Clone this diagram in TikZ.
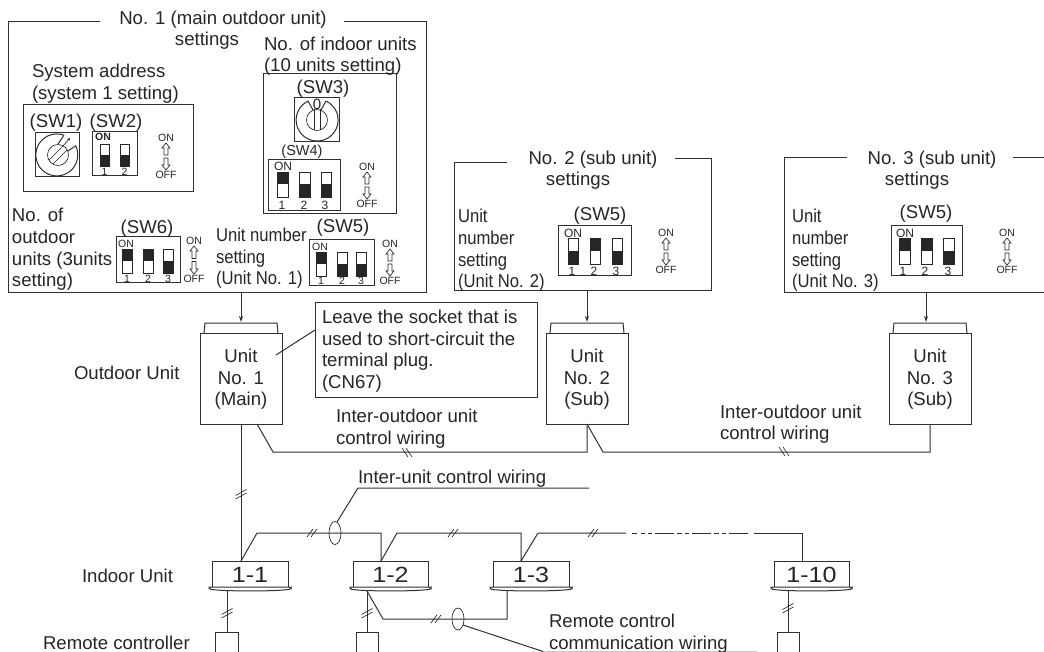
\documentclass[tikz,border=0pt]{standalone}
\usepackage{fontspec}
\setmainfont{Liberation Sans}
\usetikzlibrary{arrows.meta}
\definecolor{ink}{HTML}{262626}
\definecolor{frame}{HTML}{303030}
\tikzset{
  x=1pt,y=-1pt,
  ln/.style={draw=frame,line width=1pt},
  thin ln/.style={draw=ink,line width=0.65pt},
  lbl/.style={inner sep=0pt,outer sep=0pt,text=ink,font=\fontsize{18.6}{21.6}\selectfont,align=left},
  clbl/.style={lbl,align=center},
  nar/.style={lbl,xscale=0.895},
  sm/.style={inner sep=0pt,outer sep=0pt,text=ink,font=\fontsize{10.5}{12}\selectfont},
  smb/.style={sm,font=\fontsize{10.5}{12}\selectfont\bfseries},
  smc/.style={sm,font=\fontsize{12}{12}\selectfont},
  mid/.style={inner sep=0pt,outer sep=0pt,text=ink,font=\fontsize{14.5}{16}\selectfont},
  tag/.style={inner sep=0pt,outer sep=0pt,text=ink,font=\fontsize{22}{24}\selectfont,xscale=1.14},
  boxn/.style={draw=frame,line width=1pt,fill=white,inner sep=0pt,outer sep=0pt,anchor=north west},
  arr/.style={ln,-{Stealth[length=6pt,width=4pt]}},
}
% rectangle node: name, x1,y1,x2,y2
\newcommand{\rectn}[5]{%
  \pgfmathsetmacro{\rw}{#4-(#2)}\pgfmathsetmacro{\rh}{#5-(#3)}%
  \node[boxn,minimum width=\rw pt,minimum height=\rh pt] (#1) at (#2,#3) {};}
% toggles: x1,x2,y1,y2
\newcommand{\tgu}[4]{%
  \draw[thin ln,fill=white] (#1,#3) rectangle (#2,#4);
  \fill[ink] (#1,#3) rectangle (#2,{(#3+#4)/2});}
\newcommand{\tgd}[4]{%
  \draw[thin ln,fill=white] (#1,#3) rectangle (#2,#4);
  \fill[ink] (#1,{(#3+#4)/2}) rectangle (#2,#4);}
% ON/OFF legend: x, yON, yOFF
\newcommand{\onoff}[3]{%
  \node[sm] at (#1,#2) {ON};
  \node[sm] at (#1,#3) {OFF};
  \pgfmathsetmacro{\aA}{#2+5}\pgfmathsetmacro{\aB}{#3-5}\pgfmathsetmacro{\aM}{(#2+#3)/2}%
  \draw[thin ln,fill=white] (#1,\aA) -- (#1+4,\aA+5) -- (#1+2,\aA+5) -- (#1+2,\aM-1.5) -- (#1-2,\aM-1.5) -- (#1-2,\aA+5) -- (#1-4,\aA+5) -- cycle;
  \draw[thin ln,fill=white] (#1,\aB) -- (#1+4,\aB-5) -- (#1+2,\aB-5) -- (#1+2,\aM+1.5) -- (#1-2,\aM+1.5) -- (#1-2,\aB-5) -- (#1-4,\aB-5) -- cycle;}
% double stroke on a horizontal wire
\newcommand{\hashh}[2]{%
  \draw[thin ln] (#1-5,#2+4) -- (#1+1,#2-4);
  \draw[thin ln] (#1-1,#2+4) -- (#1+5,#2-4);}
% double stroke on a vertical wire
\newcommand{\hashv}[2]{%
  \draw[thin ln] (#1-5.5,#2+1.5) -- (#1+5.5,#2-4.5);
  \draw[thin ln] (#1-5.5,#2+5) -- (#1+5.5,#2-1);}
% outdoor unit: name, xcentre, line1,line2,line3
\newcommand{\outdoor}[5]{%
  \draw[ln] (#2-37,333) -- (#2-36,323) -- (#2+36,323) -- (#2+37,333);
  \rectn{#1}{#2-41}{333}{#2+41}{424}
  \node[clbl] at (#2,379.5) {#3\\#4\\#5};}
% indoor unit: name, x1,x2,text
\newcommand{\indoor}[4]{%
  \rectn{#1}{#2}{561}{#3}{587}
  \draw[ln,fill=white,rounded corners=1.5pt] (#2-3,587) -- (#3+3,587) -- (#3+3,589) .. controls (#3-10,591.5) and (#2+10,591.5) .. (#2-3,589) -- cycle;
  \node[tag] at ({(#2+#3)/2},574.5) {#4};}
\begin{document}
\begin{tikzpicture}
\useasboundingbox (0,0) rectangle (1044,652);
\fill[white] (0,0) rectangle (1044,652);

% ---------- panel 1
\draw[ln] (100,22) -- (8,22) -- (8,293) -- (426,293) -- (426,22) -- (344,22);
\coordinate (p1out) at (241,293);
\node[clbl,anchor=center] (p1title) at (223,19.5) {No. 1 (main outdoor unit)};
\node[clbl] (p1set) at (207,41) {settings};
\rectn{bsys}{23}{105}{193}{192}
\node[lbl,anchor=west] (sysaddr) at (32,83.5) {System address\\(system 1 setting)};
\node[clbl] at (56,123) {(SW1)};
\node[clbl] at (116,123) {(SW2)};
\rectn{d1}{35}{133}{79}{177}
\draw[ln] (64,135.2) arc (-70:-386:21);
\draw[ln] (64,135.2) -- (58,144);
\draw[ln] (76,145.6) -- (68,151);
\draw[thin ln] (58,155) circle (10.5);
\draw[thin ln] (49,160) -- (63,146) (53,164) -- (67,150);
\draw[thin ln,-{Stealth[length=3pt,width=3pt]}] (63,146) -- (70,138);
\rectn{d2}{92}{132}{137}{176}
\node[smb] at (103,137) {ON};
\tgd{100}{109}{144}{166}
\tgd{120}{129}{144}{166}
\node[sm] at (104.5,172) {1};
\node[sm] at (124.5,172) {2};
\onoff{166}{138}{175}

\node[lbl,anchor=west] (nout) at (12,249.5) {No. of\\outdoor\\units (3units\\setting)};
\rectn{d6}{116}{237}{180}{283}
\node[clbl] at (147,229) {(SW6)};
\node[sm] at (126,244) {ON};
\tgu{122}{132}{249}{273}
\tgu{143}{153}{249}{273}
\tgd{163}{173}{249}{273}
\node[sm] at (127,279) {1};
\node[sm] at (148,279) {2};
\node[sm] at (168,279) {3};
\onoff{194}{241}{279}

\rectn{bind}{263}{74}{396}{214}
\node[lbl,anchor=west] (nind) at (264,56) {No. of indoor units\\(10 units setting)};
\node[clbl] at (323,89) {(SW3)};
\rectn{d3}{294}{98}{339}{142}
\draw[ln] (326,101) arc (-65:245:21);
\draw[ln] (308,101) -- (313,110) (326,101) -- (321,110);
\draw[thin ln] (317,120) circle (10.5);
\draw[thin ln] (314.5,109.5) -- (314.5,130.5) (320,109.5) -- (320,130.5);
\node[inner sep=0pt,text=ink,font=\fontsize{15}{15}\selectfont] at (317,104) {0};
\node[mid] at (302,152) {(SW4)};
\rectn{d4}{268}{160}{340}{211}
\node[smc] at (283,166) {ON};
\tgu{277}{288}{172}{197}
\tgd{299}{310}{172}{197}
\tgd{321}{331}{172}{197}
\node[smc] at (282,205) {1};
\node[smc] at (304,205) {2};
\node[smc] at (325,205) {3};
\onoff{367}{167}{204}

\rectn{d5}{309}{240}{374}{286}
\node[clbl] at (343,228) {(SW5)};
\node[nar,anchor=west] (unum1) at (216,258.5) {Unit number\\setting\\(Unit No. 1)};
\node[sm] at (320,247) {ON};
\tgu{316}{326}{252}{276}
\tgd{337}{347}{252}{276}
\tgd{356}{366}{252}{276}
\node[sm] at (321,281) {1};
\node[sm] at (342,281) {2};
\node[sm] at (361,281) {3};
\onoff{390}{244}{281}

% ---------- panel 2
\draw[ln] (507,163) -- (454,163) -- (454,291) -- (711,291) -- (711,159) -- (675,159);
\coordinate (p2out) at (587,291);
\node[clbl] (p2title) at (593,160) {No. 2 (sub unit)};
\node[clbl] (p2set) at (578,181) {settings};
\node[nar,anchor=west] (unum2) at (458,250.5) {Unit\\number\\setting\\(Unit No. 2)};
\rectn{d52}{558}{226}{631}{276}
\node[clbl] at (600,216) {(SW5)};
\node[smc] at (573,233) {ON};
\tgd{568}{578}{238}{264}
\tgu{590}{600}{238}{264}
\tgd{612}{622}{238}{264}
\node[smc] at (572,271) {1};
\node[smc] at (594,271) {2};
\node[smc] at (616,271) {3};
\onoff{666}{233}{270}

% ---------- panel 3
\draw[ln] (847,158) -- (784,158) -- (784,293) -- (1044,293);
\draw[ln] (1013,158) -- (1044,158);
\coordinate (p3out) at (926,293);
\node[clbl] (p3title) at (932,160) {No. 3 (sub unit)};
\node[clbl] (p3set) at (917,181) {settings};
\node[nar,anchor=west] (unum3) at (792,250.5) {Unit\\number\\setting\\(Unit No. 3)};
\rectn{d53}{891}{226}{962}{276}
\node[clbl] at (926,214) {(SW5)};
\node[smc] at (905,233) {ON};
\tgu{899}{910}{238}{264}
\tgu{921}{932}{238}{264}
\tgd{943}{954}{238}{264}
\node[smc] at (903,271) {1};
\node[smc] at (925,271) {2};
\node[smc] at (948,271) {3};
\onoff{1007}{233}{270}

% ---------- outdoor units
\node[lbl,anchor=west] (lout) at (74,373) {Outdoor Unit};
\outdoor{u1}{241}{Unit}{No. 1}{(Main)}
\outdoor{u2}{587}{Unit}{No. 2}{(Sub)}
\outdoor{u3}{930}{Unit}{No. 3}{(Sub)}
\coordinate (a1) at (241,322);
\coordinate (a2) at (587,322);
\coordinate (a3) at (926,322);
\draw[arr] (p1out) -- (a1);
\draw[arr] (p2out) -- (a2);
\draw[arr] (p3out) -- (a3);

% callout
\rectn{note}{315}{303}{537}{397}
\node[lbl,anchor=west] (notet) at (322,351) {Leave the socket that is\\used to short-circuit the\\terminal plug.\\(CN67)};
\coordinate (cq) at (315,330);
\coordinate (cp) at (276,355);
\draw[ln] (cq) -- (cp);

% inter-outdoor wiring
\coordinate (w1a) at (257,424);
\coordinate (w1b) at (273,452);
\coordinate (w1c) at (587,452);
\coordinate (w2b) at (603,452);
\coordinate (w2c) at (930,452);
\draw[ln] (w1a) -- (w1b) -- (w1c) -- (u2.south);
\draw[ln] (u2.south) -- (w2b) -- (w2c) -- (u3.south);
\draw[thin ln] (402,448) -- (408,457) (406,448) -- (412,457);
\draw[thin ln] (779,447) -- (785,456) (783,447) -- (789,456);
\node[lbl,anchor=west] (iow1) at (336,428.5) {Inter-outdoor unit\\control wiring};
\node[lbl,anchor=west] (iow2) at (720,424) {Inter-outdoor unit\\control wiring};

% ---------- indoor units
\node[lbl,anchor=west] (lin) at (82,576) {Indoor Unit};
\indoor{i1}{212}{288}{1-1}
\indoor{i2}{353}{428}{1-2}
\indoor{i3}{493}{569}{1-3}
\indoor{i10}{774}{849}{1-10}

\coordinate (i1top) at (241,561);
\coordinate (i2top) at (381,561);
\coordinate (i3top) at (521,561);
\coordinate (i10top) at (802,561);
\draw[ln] (u1.south) -- (i1top);
\hashv{241}{494}
\draw[ln] (i1top) -- (257,533) -- (381,533) -- (i2top);
\draw[ln] (i2top) -- (397,533) -- (521,533) -- (i3top);
\draw[ln] (i3top) -- (538,533) -- (626,533);
\draw[ln,dash pattern=on 5pt off 4pt on 4pt off 3pt on 4pt off 3pt on 19pt off 3pt on 5pt off 3pt on 4pt off 3pt on 19pt off 3pt on 5pt off 3pt on 4pt off 3pt on 19pt off 6pt] (632,533) -- (748,533);
\draw[ln] (754,533) -- (802,533) -- (i10top);
\hashh{312}{533}
\hashh{453}{533}
\hashh{593}{533}
\draw[thin ln] (335,533) ellipse (6 and 11.5);
\draw[ln] (337,522) -- (358,488) -- (589,488);
\node[lbl,anchor=west] (iuw) at (358,479) {Inter-unit control wiring};

% ---------- remotes
\node[lbl,anchor=west] (lrem) at (43,643) {Remote controller};
\draw[ln] (215,652) -- (215,632) -- (238,632) -- (238,652);
\draw[ln] (356,652) -- (356,632) -- (378,632) -- (378,652);
\draw[ln] (777,652) -- (777,632) -- (799,632) -- (799,652);
\draw[ln] (227,591) -- (227,632);
\draw[ln] (367,591) -- (367,632);
\draw[ln] (788,591) -- (788,632);
\hashv{227}{613}
\hashv{367}{613}
\hashv{788}{608}
\draw[ln] (367,591) -- (383,619) -- (507,619) -- (507,591);
\hashh{436}{619}
\draw[thin ln] (458,619) ellipse (6 and 11);
\draw[ln] (463,625) -- (543,651.5);
\draw[draw=gray!45,line width=0.8pt] (543,651.6) -- (757,651.6);
\node[lbl,anchor=west] (rcw) at (549,633.5) {Remote control\\communication wiring};
\end{tikzpicture}
\end{document}
